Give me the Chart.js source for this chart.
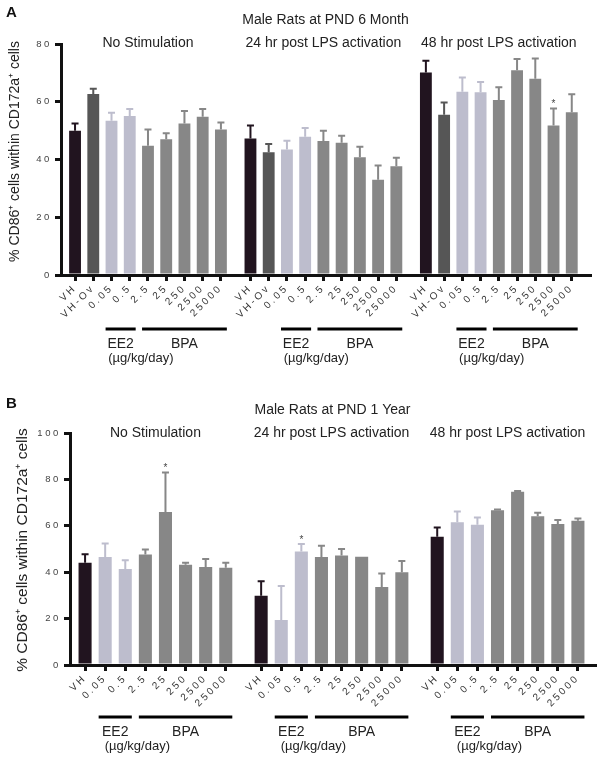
<!DOCTYPE html>
<html>
<head>
<meta charset="utf-8">
<script src="https://cdn.jsdelivr.net/npm/chart.js@4"></script>
<style>
  body { margin: 0; background: #fff; width: 604px; height: 764px; overflow: hidden; }
  canvas { position: absolute; left: 0; }
</style>
</head>
<body>
<canvas id="chartA" width="604" height="380" style="top:0"></canvas>
<canvas id="chartB" width="604" height="384" style="top:380px"></canvas>
<script>
const groupTitles = ['No Stimulation', '24 hr post LPS activation', '48 hr post LPS activation'];
const yTitle = '% CD86\u207A cells within CD172a\u207A cells';

const dosesA = ['VH', 'VH-Ov', '0.05', '0.5', '2.5', '25', '250', '2500', '25000'];
const kindsA = ['vh', 'ov', 'ee2', 'ee2', 'bpa', 'bpa', 'bpa', 'bpa', 'bpa'];
const dosesB = ['VH', '0.05', '0.5', '2.5', '25', '250', '2500', '25000'];
const kindsB = ['vh', 'ee2', 'ee2', 'bpa', 'bpa', 'bpa', 'bpa', 'bpa'];

// A: PND 6 month (mean, SEM)
const meanA_none = [50.0, 62.7, 53.4, 55.1, 44.8, 47.0, 52.5, 54.8, 50.4];
const semA_none  = [2.5, 1.8, 2.8, 2.4, 5.6, 2.1, 4.3, 2.7, 2.4];
const meanA_24h  = [47.3, 42.5, 43.5, 47.9, 46.4, 45.8, 40.8, 33.0, 37.7];
const semA_24h   = [4.5, 2.9, 3.0, 3.0, 3.6, 2.4, 3.6, 4.9, 2.9];
const meanA_48h  = [70.1, 55.5, 63.5, 63.3, 60.6, 70.9, 68.0, 51.8, 56.4];
const semA_48h   = [4.1, 4.2, 4.9, 3.5, 4.4, 3.9, 7.0, 5.9, 6.2];
const starsA = [[], [], [7]];

// B: PND 1 year
const meanB_none = [44.1, 46.6, 41.4, 47.6, 65.9, 43.2, 42.2, 41.9];
const semB_none  = [3.6, 5.8, 3.7, 2.2, 17.1, 0.9, 3.5, 2.2];
const meanB_24h  = [29.9, 19.4, 48.9, 46.6, 47.2, 46.7, 33.6, 40.0];
const semB_24h   = [6.2, 14.7, 3.3, 4.8, 2.8, 0, 5.8, 4.8];
const meanB_48h  = [55.3, 61.5, 60.5, 66.7, 74.7, 64.1, 60.8, 62.2];
const semB_48h   = [4.0, 4.7, 3.1, 0.3, 0.3, 1.5, 1.7, 1.0];
const starsB = [[4], [2], []];

const palette = { vh: '#21141f', ov: '#565656', ee2: '#bdbdcd', bpa: '#878787' };
const FONT = "'Liberation Sans', Arial, sans-serif";

const annot = {
  id: 'annot',
  beforeDraw(chart) { chart.ctx.letterSpacing = '2.6px'; },
  afterDatasetsDraw(chart, args, o) {
    const ctx = chart.ctx, y = chart.scales.y;
    ctx.save();
    ctx.letterSpacing = '0px';
    chart.getDatasetMeta(0).data.forEach((bar, i) => {
      const b = bar.getProps(['x', 'y', 'width'], true);
      const top = y.getPixelForValue(o.means[i] + o.sems[i]);
      if (o.sems[i] > 0) {
        ctx.strokeStyle = o.colors[i];
        ctx.lineWidth = 2;
        ctx.beginPath();
        ctx.moveTo(b.x, b.y);
        ctx.lineTo(b.x, top);
        ctx.moveTo(b.x - 3.5, top);
        ctx.lineTo(b.x + 3.5, top);
        ctx.stroke();
      }
      if (o.stars[i]) {
        ctx.fillStyle = '#444';
        ctx.font = '10px ' + FONT;
        ctx.textAlign = 'center';
        ctx.textBaseline = 'alphabetic';
        ctx.fillText('*', b.x, top - 1);
      }
    });
    ctx.restore();
  },
  afterDraw(chart, args, o) {
    const ctx = chart.ctx, x = chart.scales.x, area = chart.chartArea;
    ctx.letterSpacing = '0px';
    ctx.save();
    ctx.fillStyle = '#111';
    ctx.textBaseline = 'middle';
    // panel letter and title
    ctx.font = 'bold 15px ' + FONT;
    ctx.textAlign = 'left';
    ctx.fillText(o.letter, 6, o.letterY);
    ctx.font = '14px ' + FONT;
    ctx.textAlign = 'center';
    ctx.fillStyle = '#222';
    ctx.fillText(o.title, (area.left + area.right) / 2, o.titleY);
    // y title
    ctx.save();
    ctx.translate(o.yTitleX, (area.top + area.bottom) / 2 + o.yTitleShift);
    ctx.rotate(-Math.PI / 2);
    ctx.font = o.yTitleSize + 'px ' + FONT;
    ctx.fillText(yTitle, 0, 0);
    ctx.restore();
    const unit = x.getPixelForValue(1) - x.getPixelForValue(0);
    const half = unit * 0.65 / 2;
    const n = o.doses.length;
    const e0 = o.kinds.indexOf('ee2'), e1 = o.kinds.lastIndexOf('ee2');
    const b0 = o.kinds.indexOf('bpa'), b1 = n - 1;
    groupTitles.forEach((t, g) => {
      const px = i => x.getPixelForValue(o.xs[g * n + i]);
      ctx.font = '14px ' + FONT;
      ctx.fillStyle = '#222';
      ctx.fillText(t, (px(0) + px(n - 1)) / 2, o.groupY);
      ctx.fillStyle = '#000';
      ctx.fillRect(px(e0) - half, o.lineY - 1.5, px(e1) - px(e0) + 2 * half, 3);
      ctx.fillRect(px(b0) - half, o.lineY - 1.5, px(b1) - px(b0) + 2 * half, 3);
      ctx.fillStyle = '#222';
      ctx.font = '14px ' + FONT;
      ctx.fillText('EE2', (px(e0) + px(e1)) / 2, o.lineY + 15);
      ctx.fillText('BPA', (px(b0) + px(b1)) / 2, o.lineY + 15);
      ctx.font = '13px ' + FONT;
      ctx.fillText('(\u00B5g/kg/day)', (px(e1) + px(b0)) / 2 + 2, o.lineY + 29);
    });
    ctx.restore();
  }
};

function buildPanel(id, p) {
  const n = p.doses.length;
  const period = n - 1 + p.gap;
  const xs = [], labels = [], means = [], sems = [], colors = [], stars = [];
  p.means.forEach((grp, g) => grp.forEach((v, i) => {
    xs.push(g * period + i);
    labels.push(p.doses[i]);
    means.push(v);
    sems.push(p.sems[g][i]);
    colors.push(palette[p.kinds[i]]);
    stars.push(p.stars[g].includes(i));
  }));
  const canvas = document.getElementById(id);
  return new Chart(canvas, {
    type: 'bar',
    data: {
      datasets: [{
        data: xs.map((v, i) => ({ x: v, y: means[i] })),
        backgroundColor: colors,
        barPercentage: 0.65,
        categoryPercentage: 1
      }]
    },
    options: {
      responsive: false,
      animation: false,
      layout: { padding: { top: p.top, right: 604 - p.right, bottom: 0, left: 0 } },
      plugins: {
        legend: { display: false },
        tooltip: { enabled: false },
        annot: Object.assign({ xs, means, sems, colors, stars }, p.annot, { doses: p.doses, kinds: p.kinds })
      },
      scales: {
        x: {
          type: 'linear',
          offset: false,
          bounds: 'data',
          min: -p.padL,
          max: xs[xs.length - 1] + p.padR,
          afterBuildTicks: s => { s.ticks = xs.map(v => ({ value: v })); },
          afterFit: s => { s.height = canvas.height - p.bottom; s.paddingLeft = 0; s.paddingRight = 0; },
          ticks: {
            autoSkip: false,
            minRotation: 45,
            maxRotation: 45,
            padding: 1,
            color: '#333',
            font: { family: FONT, size: 10 },
            callback: (v, i) => labels[i]
          },
          grid: { display: true, offset: false, drawOnChartArea: false, drawTicks: true, tickLength: 6, color: '#111', lineWidth: 3 },
          border: { display: true, color: '#111', width: 3 }
        },
        y: {
          min: 0,
          max: p.yMax,
          afterFit: s => { s.width = p.left; },
          ticks: { stepSize: 20, padding: 3, color: '#444', font: { family: FONT, size: 9.5 } },
          grid: { display: true, drawOnChartArea: false, drawTicks: true, tickLength: 6, color: '#111', lineWidth: 3 },
          border: { display: true, color: '#111', width: 3 }
        }
      }
    },
    plugins: [annot]
  });
}

buildPanel('chartA', {
  doses: dosesA, kinds: kindsA,
  means: [meanA_none, meanA_24h, meanA_48h],
  sems: [semA_none, semA_24h, semA_48h],
  stars: starsA,
  gap: 1.62, padL: 0.77, padR: 1.0,
  top: 44, bottom: 275, left: 61, right: 590, yMax: 80,
  annot: { letter: 'A', letterY: 13, title: 'Male Rats at PND 6 Month', titleY: 20, groupY: 43,
           lineY: 329, yTitleX: 15, yTitleSize: 14, yTitleShift: -8 }
});

buildPanel('chartB', {
  doses: dosesB, kinds: kindsB,
  means: [meanB_none, meanB_24h, meanB_48h],
  sems: [semB_none, semB_24h, semB_48h],
  stars: starsB,
  gap: 1.76, padL: 0.75, padR: 0.85,
  top: 53, bottom: 285, left: 70, right: 595, yMax: 100,
  annot: { letter: 'B', letterY: 24, title: 'Male Rats at PND 1 Year', titleY: 30, groupY: 53,
           lineY: 337, yTitleX: 23, yTitleSize: 15.5, yTitleShift: 1 }
});
</script>
</body>
</html>
